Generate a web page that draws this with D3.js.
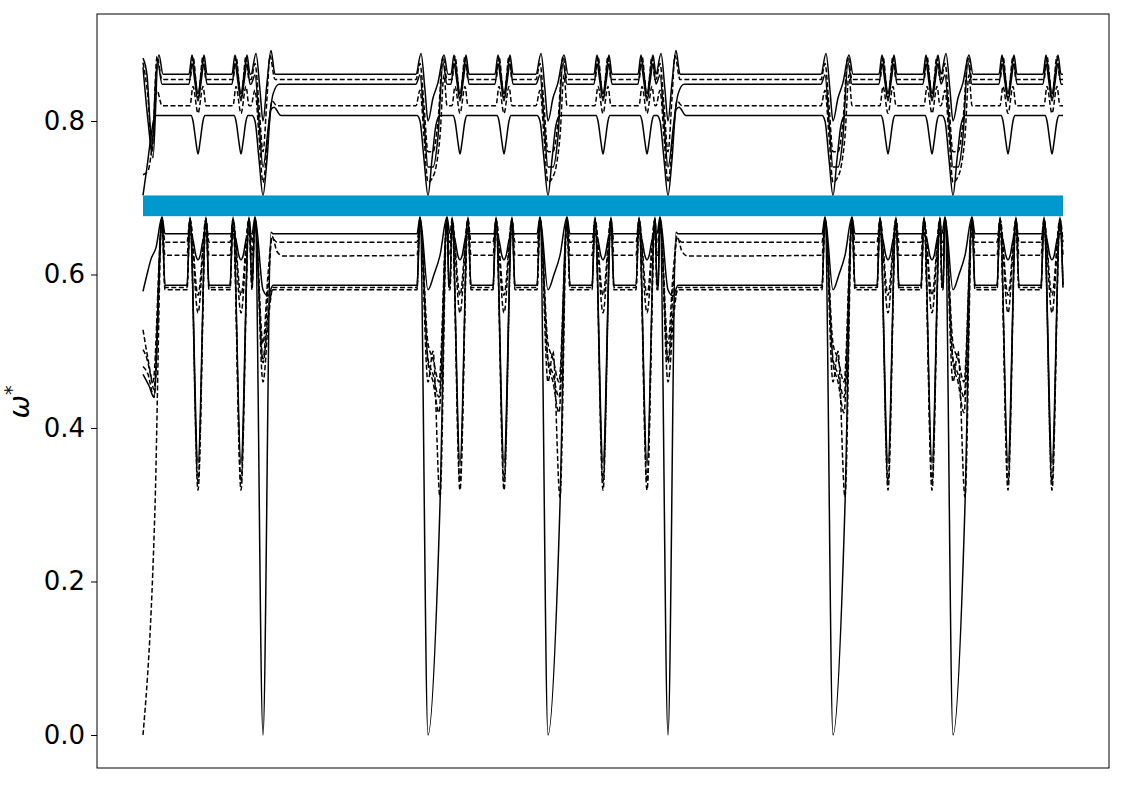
<!DOCTYPE html>
<html>
<head>
<meta charset="utf-8">
<script src="https://cdn.jsdelivr.net/npm/d3@7"></script>
<style>
    body { margin: 0; background: #fff; }
    text { font-family: 'DejaVu Sans', sans-serif; }
</style>
</head>
<body>
<div id="chart-holder"></div>
<script>
// Band diagram: omega* along the k-path, with the gap band in blue

// k-path (arbitrary units along the path, no ticks shown)
var pathEnd = 920;
var gammaK = [0, 120, 285, 405, 525, 690, 810];
var flatAfter = [0, 1, 0, 0, 1, 0, 0];     // 1 => plain flat stretch after this point
var dipK = [55, 98, 317, 361, 460, 504, 745, 789, 865, 909];

// gap band (blue)
var gapLow = 0.676;
var gapHigh = 0.703;

var yTicks = [0.0, 0.2, 0.4, 0.6, 0.8];

// bands, top to bottom
var bandNames  = ['U5', 'U4', 'U3', 'U2', 'U1', 'L5', 'L4', 'L3', 'L2', 'L1', 'D0'];
var bandDashed = [false, true, false, true, false, false, true, true, false, true, true];
var bandLevel  = [0.861, 0.854, 0.848, 0.820, 0.807, 0.653, 0.642, 0.625, 0.586, 0.580, 0.583];

// shape around each small dip: [dk, omega]
var dipShape = [
    [[-9,0.861],[-6,0.886],[-3,0.86],[0,0.835],[3,0.86],[6,0.886],[9,0.861]],
    [[-8,0.854],[-5,0.884],[0,0.83],[5,0.884],[8,0.854]],
    [[-9,0.848],[-6,0.875],[-3,0.85],[0,0.826],[3,0.85],[6,0.875],[9,0.848]],
    [[-8,0.82],[-5,0.845],[0,0.81],[5,0.845],[8,0.82]],
    [[-7,0.807],[-5,0.80],[-2,0.772],[0,0.757],[2,0.772],[5,0.80],[7,0.807]],
    [[-8,0.653],[-5,0.645],[-2,0.624],[0,0.619],[2,0.624],[5,0.645],[8,0.653]],
    [[-11,0.642],[-8,0.672],[0,0.573],[8,0.672],[11,0.642]],
    [[-11,0.625],[-8,0.67],[0,0.55],[8,0.67],[11,0.625]],
    [[-11,0.586],[-8,0.675],[0,0.354],[8,0.675],[11,0.586]],
    [[-11,0.58],[-8,0.672],[0,0.319],[8,0.672],[11,0.58]],
    [[-11,0.583],[-8,0.673],[0,0.33],[8,0.673],[11,0.583]]
];

// coming into a gamma point from the left
var gammaIn = [
    [[-12,0.861],[-7,0.888],[-3,0.84],[0,0.80]],
    [[-12,0.854],[-8,0.875],[-4,0.82],[0,0.76]],
    [[-12,0.848],[-8,0.86],[-4,0.80],[0,0.74]],
    [[-12,0.82],[-8,0.84],[-4,0.78],[0,0.72]],
    [[-11,0.807],[-8,0.80],[-4,0.75],[0,0.703]],
    [[-11,0.653],[-8,0.675],[0,0.0]],
    [[-11,0.642],[-8,0.672],[0,0.51]],
    [[-11,0.625],[-8,0.67],[0,0.49]],
    [[-11,0.586],[-8,0.675],[0,0.58]],
    [[-11,0.58],[-8,0.672],[0,0.485]],
    [[-11,0.583],[-8,0.673],[0,0.46]]
];

// leaving a gamma point into a flat stretch
var gammaOutFlat = [
    [[4,0.85],[8,0.892],[12,0.861]],
    [[4,0.83],[7,0.885],[12,0.854]],
    [[6,0.80],[10,0.835],[16,0.848]],
    [[5,0.78],[9,0.826],[14,0.82]],
    [[4,0.75],[8,0.815],[11,0.818],[18,0.807]],
    [[8,0.655],[10,0.653]],
    [[5,0.60],[9,0.647],[14,0.642]],
    [[6,0.60],[9,0.65],[14,0.63],[20,0.624]],
    [[5,0.572],[10,0.586]],
    [[6,0.56],[10,0.58]],
    [[6,0.55],[10,0.583]]
];

// leaving a gamma point into a busy stretch
var gammaOutBusy = [
    [[5,0.83],[10,0.85],[16,0.886],[20,0.861]],
    [[5,0.76],[10,0.80],[15,0.884],[19,0.854]],
    [[5,0.74],[10,0.78],[15,0.876],[19,0.848]],
    [[4,0.725],[8,0.74],[12,0.78],[16,0.86],[19,0.82]],
    [[4,0.75],[8,0.795],[12,0.807]],
    [[12,0.30],[19,0.675],[22,0.653]],
    [[5,0.49],[11,0.46],[19,0.672],[22,0.642]],
    [[5,0.47],[11,0.44],[19,0.67],[22,0.625]],
    [[6,0.60],[12,0.625],[19,0.675],[22,0.586]],
    [[5,0.46],[11,0.42],[19,0.672],[22,0.58]],
    [[5,0.50],[12,0.31],[19,0.673],[22,0.583]]
];

// first stretch of the path
var startShape = [
    [[0,0.882],[4,0.86],[9,0.77],[13,0.86],[16,0.886],[20,0.861]],
    [[0,0.876],[5,0.83],[9,0.76],[14,0.884],[19,0.854]],
    [[0,0.87],[5,0.80],[10,0.752],[15,0.875],[19,0.848]],
    [[0,0.73],[5,0.735],[10,0.78],[14,0.84],[19,0.82]],
    [[0,0.703],[4,0.74],[8,0.78],[12,0.807]],
    [[0,0.578],[4,0.60],[8,0.62],[13,0.635],[19,0.675],[22,0.653]],
    [[0,0.528],[5,0.49],[10,0.46],[19,0.672],[22,0.642]],
    [[0,0.502],[4,0.49],[8,0.466],[11,0.45],[19,0.67],[22,0.625]],
    [[0,0.47],[6,0.455],[11,0.44],[19,0.675],[22,0.586]],
    [[0,0.48],[5,0.47],[11,0.44],[19,0.672],[22,0.58]],
    [[0,0.0],[12,0.297],[19,0.673],[22,0.583]]
];

const width = 1125, height = 785;
const plot = { left: 97, right: 1109, top: 14, bottom: 768 };

// put one band together from the shape tables
function bandPoints(b) {
    let pts = startShape[b].map(d => [d[0], d[1]]);
    gammaK.forEach((g, i) => {
        let next = i < gammaK.length - 1 ? gammaK[i + 1] : pathEnd;
        if (i > 0) {
            gammaIn[b].forEach(d => pts.push([g + d[0], d[1]]));
            let out = flatAfter[i] ? gammaOutFlat[b] : gammaOutBusy[b];
            out.forEach(d => pts.push([g + d[0], d[1]]));
        }
        if (!flatAfter[i]) {
            dipK.filter(m => m > g && m < next).forEach(m => {
                dipShape[b].forEach(d => pts.push([m + d[0], d[1]]));
            });
        }
    });
    pts.push([pathEnd, bandLevel[b]]);
    pts = pts.filter(d => d[0] <= pathEnd).sort((a, c) => a[0] - c[0]);
    return pts.filter((d, i) => i == 0 || d[0] > pts[i - 1][0]);
}

var x = d3.scaleLinear()
    .domain([-0.05 * pathEnd, 1.05 * pathEnd])
    .range([plot.left, plot.right]);

var y = d3.scaleLinear()
    .domain([-0.043, 0.9394])
    .range([plot.bottom, plot.top]);

var svg = d3.select('#chart-holder')
    .append('svg')
    .attr('width', width)
    .attr('height', height)
    .style('background', '#fff');

var line = d3.line()
    .x(d => x(d[0]))
    .y(d => y(d[1]))
    .curve(d3.curveMonotoneX);

var bandsG = svg.append('g').attr('fill', 'none');

bandsG.selectAll('.band')
    .data(bandNames.map((n, i) => ({ name: n, dashed: bandDashed[i], pts: bandPoints(i) })))
    .join('path')
    .classed('band', true)
    .attr('d', d => line(d.pts))
    .attr('stroke', '#000')
    .attr('stroke-width', 1.5)
    .attr('stroke-dasharray', d => d.dashed ? '5,2.5' : null);

// gap band
svg.append('rect')
    .attr('x', x(0))
    .attr('width', x(pathEnd) - x(0))
    .attr('y', y(gapHigh))
    .attr('height', y(gapLow) - y(gapHigh))
    .attr('fill', '#0099cf');

// axes
var yAxis = d3.axisLeft(y)
    .tickValues(yTicks)
    .tickFormat(d3.format('.1f'))
    .tickSize(6)
    .tickPadding(6);

var yAxisG = svg.append('g')
    .attr('transform', `translate(${plot.left},0)`)
    .call(yAxis);

yAxisG.select('.domain').remove();
yAxisG.selectAll('.tick line').attr('stroke', '#000').attr('stroke-width', 1);
yAxisG.selectAll('.tick text')
    .attr('fill', '#000')
    .attr('font-size', '26px')
    .attr('font-family', 'DejaVu Sans');

svg.append('rect')
    .attr('x', plot.left)
    .attr('y', plot.top)
    .attr('width', plot.right - plot.left)
    .attr('height', plot.bottom - plot.top)
    .attr('fill', 'none')
    .attr('stroke', '#000')
    .attr('stroke-width', 1);

var yLabel = svg.append('text')
    .attr('transform', 'translate(29,402) rotate(-90)')
    .attr('text-anchor', 'middle')
    .attr('fill', '#000');

yLabel.append('tspan')
    .attr('font-size', '28px')
    .attr('font-style', 'italic')
    .text('ω');

yLabel.append('tspan')
    .attr('font-size', '19px')
    .attr('dy', -11)
    .text('*');
</script>
</body>
</html>
